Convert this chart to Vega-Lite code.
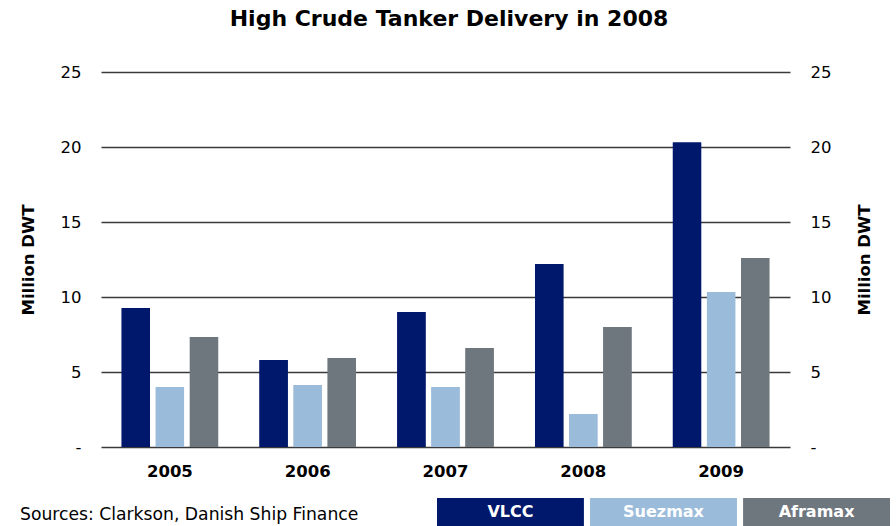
{
  "$schema": "https://vega.github.io/schema/vega-lite/v6.json",
  "padding": {"left": 20, "top": 8, "right": 0, "bottom": 0},
  "background": "white",
  "config": {
    "view": {"stroke": null},
    "font": "DejaVu Sans",
    "concat": {"spacing": 18}
  },
  "title": {
    "text": "High Crude Tanker Delivery in 2008",
    "font": "DejaVu Sans",
    "fontSize": 22,
    "fontWeight": "bold",
    "color": "#000000",
    "anchor": "middle",
    "offset": 33,
    "dx": -6
  },
  "datasets": {
    "deliv": [
      {"year": "2005", "type": "VLCC", "value": 9.27},
      {"year": "2005", "type": "Suezmax", "value": 4.0},
      {"year": "2005", "type": "Aframax", "value": 7.33},
      {"year": "2006", "type": "VLCC", "value": 5.8},
      {"year": "2006", "type": "Suezmax", "value": 4.13},
      {"year": "2006", "type": "Aframax", "value": 5.93},
      {"year": "2007", "type": "VLCC", "value": 9.0},
      {"year": "2007", "type": "Suezmax", "value": 4.0},
      {"year": "2007", "type": "Aframax", "value": 6.6},
      {"year": "2008", "type": "VLCC", "value": 12.2},
      {"year": "2008", "type": "Suezmax", "value": 2.2},
      {"year": "2008", "type": "Aframax", "value": 8.0},
      {"year": "2009", "type": "VLCC", "value": 20.3},
      {"year": "2009", "type": "Suezmax", "value": 10.33},
      {"year": "2009", "type": "Aframax", "value": 12.6}
    ],
    "legend": [
      {"type": "VLCC"},
      {"type": "Suezmax"},
      {"type": "Aframax"}
    ],
    "source": [
      {"text": "Sources: Clarkson, Danish Ship Finance"}
    ]
  },
  "vconcat": [
    {
      "width": 689,
      "height": 375,
      "data": {"name": "deliv"},
      "encoding": {
        "x": {
          "field": "year",
          "type": "nominal",
          "scale": {"paddingInner": 0.3, "paddingOuter": 0.15},
          "axis": {
            "title": null,
            "labelAngle": 0,
            "labelFontSize": 16.5,
            "labelFontWeight": "bold",
            "labelColor": "#000000",
            "labelPadding": 16,
            "ticks": false,
            "domain": false
          }
        },
        "xOffset": {
          "field": "type",
          "type": "nominal",
          "sort": ["VLCC", "Suezmax", "Aframax"],
          "scale": {"paddingInner": 0.17}
        },
        "y": {
          "field": "value",
          "type": "quantitative",
          "scale": {"domain": [0, 25]}
        },
        "color": {
          "field": "type",
          "type": "nominal",
          "sort": ["VLCC", "Suezmax", "Aframax"],
          "scale": {
            "domain": ["VLCC", "Suezmax", "Aframax"],
            "range": ["#00186C", "#9ABBDA", "#6F777E"]
          },
          "legend": null
        }
      },
      "layer": [
        {
          "mark": {"type": "bar"},
          "encoding": {
            "y": {
              "field": "value",
              "type": "quantitative",
              "scale": {"domain": [0, 25]},
              "axis": {
                "orient": "left",
                "title": "Million DWT",
                "titleFontSize": 16.5,
                "titleFontWeight": "bold",
                "titleColor": "#000000",
                "titlePadding": 24,
                "values": [0, 5, 10, 15, 20, 25],
                "labelExpr": "datum.value == 0 ? '-' : datum.label",
                "labelFontSize": 16.5,
                "labelColor": "#000000",
                "labelPadding": 20,
                "ticks": false,
                "domain": false,
                "grid": true,
                "gridColor": "#3a3a3a",
                "gridWidth": 1.4,
                "gridOpacity": 1
              }
            }
          }
        },
        {
          "mark": {"type": "bar"},
          "encoding": {
            "y": {
              "field": "value",
              "type": "quantitative",
              "scale": {"domain": [0, 25]},
              "axis": {
                "orient": "right",
                "title": "Million DWT",
                "titleAngle": 270,
                "titleFontSize": 16.5,
                "titleFontWeight": "bold",
                "titleColor": "#000000",
                "titlePadding": 42,
                "values": [0, 5, 10, 15, 20, 25],
                "labelExpr": "datum.value == 0 ? '-' : datum.label",
                "labelFontSize": 16.5,
                "labelColor": "#000000",
                "labelPadding": 20,
                "ticks": false,
                "domain": false,
                "grid": false
              }
            }
          }
        }
      ],
      "resolve": {"axis": {"y": "independent"}}
    },
    {
      "hconcat": [
        {
          "width": 320,
          "height": 28,
          "data": {"name": "source"},
          "mark": {
            "type": "text",
            "align": "left",
            "baseline": "middle",
            "fontSize": 17.2,
            "color": "#000000",
            "dx": -81
          },
          "encoding": {
            "text": {"field": "text"},
            "y": {"value": 17},
            "x": {"value": 0}
          }
        },
        {
          "width": 453,
          "height": 28,
          "data": {"name": "legend"},
          "encoding": {
            "x": {
              "field": "type",
              "type": "nominal",
              "sort": ["VLCC", "Suezmax", "Aframax"],
              "scale": {"paddingInner": 0.04, "paddingOuter": 0},
              "axis": null
            }
          },
          "layer": [
            {
              "mark": {"type": "bar"},
              "encoding": {
                "color": {
                  "field": "type",
                  "type": "nominal",
                  "scale": {
                    "domain": ["VLCC", "Suezmax", "Aframax"],
                    "range": ["#00186C", "#9ABBDA", "#6F777E"]
                  },
                  "legend": null
                }
              }
            },
            {
              "mark": {
                "type": "text",
                "fontSize": 16,
                "fontWeight": "bold",
                "color": "#ffffff",
                "baseline": "middle"
              },
              "encoding": {
                "text": {"field": "type"}
              }
            }
          ]
        }
      ],
      "spacing": 16
    }
  ]
}
